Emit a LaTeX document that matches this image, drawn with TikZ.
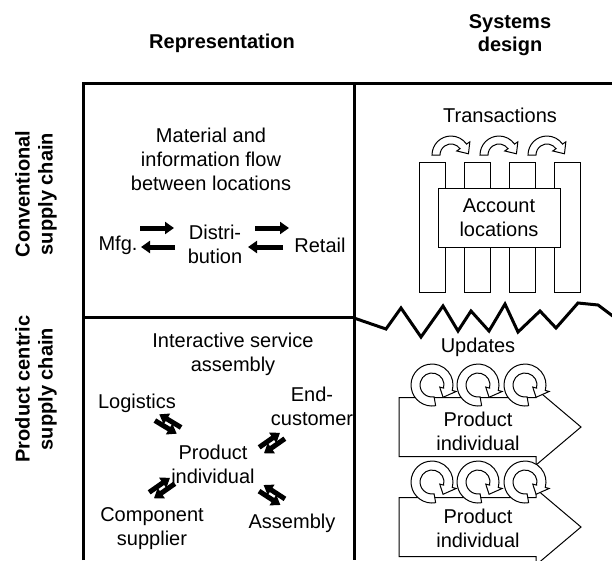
\documentclass[tikz,border=0pt]{standalone}
\usepackage{fontspec}
\setmainfont{Liberation Sans}
\usetikzlibrary{arrows.meta,calc}
\begin{document}
\begin{tikzpicture}[x=1pt,y=-1pt,
  grid/.style={line width=3pt},
  txt/.style={font=\fontsize{20}{24}\selectfont, align=center, inner sep=0pt},
  hdr/.style={font=\fontsize{20}{23}\selectfont\bfseries, align=center, inner sep=0pt},
  fat/.style={line width=5pt, -{Triangle[length=9pt,width=12pt]}},
  shp/.style={draw, fill=white, line width=1pt, line join=miter}]
\useasboundingbox (0,0) rectangle (612,560);

% grid
\draw[grid] (83,560) -- (83,83) -- (612,83);
\draw[grid] (354,83) -- (354,560);
\draw[grid] (83,317) -- (354,317);
\draw[grid, line join=miter] (354,318) -- (386,329) -- (401,308) -- (421,337) -- (443,306) -- (458,331) -- (471,311) -- (489,331) -- (505,304) -- (518,332) -- (540,311) -- (556,328) -- (578,303) -- (598,305) -- (614,317);

% headers
\node[hdr] (rep) at (222,43) {Representation};
\node[hdr] (sys) at (510,35) {Systems\\design};
\node[hdr, rotate=90] (conv) at (36,194) {Conventional\\supply chain};
\node[hdr, rotate=90] (pcsc) at (36,389) {Product centric\\supply chain};

% top-left cell
\node[txt] (mat) at (211,159) {Material and\\information flow\\between locations};
\node[txt] (mfg) at (118,245) {Mfg.};
\node[txt] (distri) at (215,244.5) {Distri-\\bution};
\node[txt] (retail) at (320,245) {Retail};
\coordinate (a1s) at (140,228); \coordinate (a1e) at (174,228);
\coordinate (a2s) at (175,247); \coordinate (a2e) at (141,247);
\coordinate (a3s) at (255,228); \coordinate (a3e) at (289,228);
\coordinate (a4s) at (283,247); \coordinate (a4e) at (248,247);
\draw[fat] (a1s) -- (a1e);
\draw[fat] (a2s) -- (a2e);
\draw[fat] (a3s) -- (a3e);
\draw[fat] (a4s) -- (a4e);

% bottom-left cell
\node[txt] (inter) at (233,354.5) {Interactive service\\assembly};
\node[txt] (logi) at (137,403) {Logistics};
\node[txt] (endc) at (312,406.5) {End-\\customer};
\node[txt] (prod) at (213,464.5) {Product\\individual};
\node[txt] (comp) at (152,528.5) {Component\\supplier};
\node[txt] (asm) at (292,523) {Assembly};

\foreach \px/\py/\ang in {168/424/-31, 272/495/-33} {
  \begin{scope}[shift={(\px,\py)}, rotate=\ang]
    \draw[fat] (-13,3.8) -- (12.5,3.8);
    \draw[fat] (13,-3.8) -- (-12.5,-3.8);
  \end{scope}
}
\foreach \px/\py/\ang in {272/443/35, 162/488/35} {
  \begin{scope}[shift={(\px,\py)}, rotate=\ang]
    \draw[fat] (-13,-3.8) -- (12.5,-3.8);
    \draw[fat] (13,3.8) -- (-12.5,3.8);
  \end{scope}
}

% top-right cell
\node[txt] (trans) at (500,115) {Transactions};
\foreach \cx in {451,499,547} {
  \coordinate (c) at (\cx,155);
  \draw[shp] ($(c)+(180:19pt)$) arc[start angle=180,end angle=35,radius=19pt]
     -- ($(c)+(35:23pt)$) -- ($(c)+(35:15pt)+(-55:9pt)$) -- ($(c)+(35:7pt)$)
     -- ($(c)+(35:11pt)$) arc[start angle=35,end angle=180,radius=11pt] -- cycle;
}
\foreach \cx in {419,464,509,554} {
  \draw[shp] (\cx,162) rectangle +(26.5,130);
}
\node[shp, minimum width=122pt, minimum height=59pt, inner sep=0pt] (acct) at (499,217.5) {};
\node[txt] (accttxt) at (acct) {Account\\locations};

% bottom-right cell
\node[txt] (upd) at (478,347) {Updates};
\draw[shp] (399,397.5) -- (536,397.5) -- (536,389) -- (581,427) -- (536,465) -- (536,456.5) -- (399,456.5) -- cycle;
\foreach \cx in {432,478,525} {
  \coordinate (c) at (\cx,385);
  \draw[shp] ($(c)+(280:21pt)$) arc[start angle=280,end angle=-15,radius=21pt]
     -- ($(c)+(-15:25pt)$) -- ($(c)+(-48:16.5pt)$) -- ($(c)+(-15:8pt)$)
     -- ($(c)+(-15:12pt)$) arc[start angle=-15,end angle=280,radius=12pt] -- cycle;
}
\draw[shp] (399,497.5) -- (536,497.5) -- (536,489) -- (581,527) -- (536,565) -- (536,556.5) -- (399,556.5) -- cycle;
\foreach \cx in {432,478,525} {
  \coordinate (c) at (\cx,482);
  \draw[shp] ($(c)+(280:21pt)$) arc[start angle=280,end angle=-15,radius=21pt]
     -- ($(c)+(-15:25pt)$) -- ($(c)+(-48:16.5pt)$) -- ($(c)+(-15:8pt)$)
     -- ($(c)+(-15:12pt)$) arc[start angle=-15,end angle=280,radius=12pt] -- cycle;
}
\node[txt] (prod1) at (478,431.5) {Product\\individual};
\node[txt] (prod2) at (478,528.5) {Product\\individual};
\end{tikzpicture}
\end{document}
